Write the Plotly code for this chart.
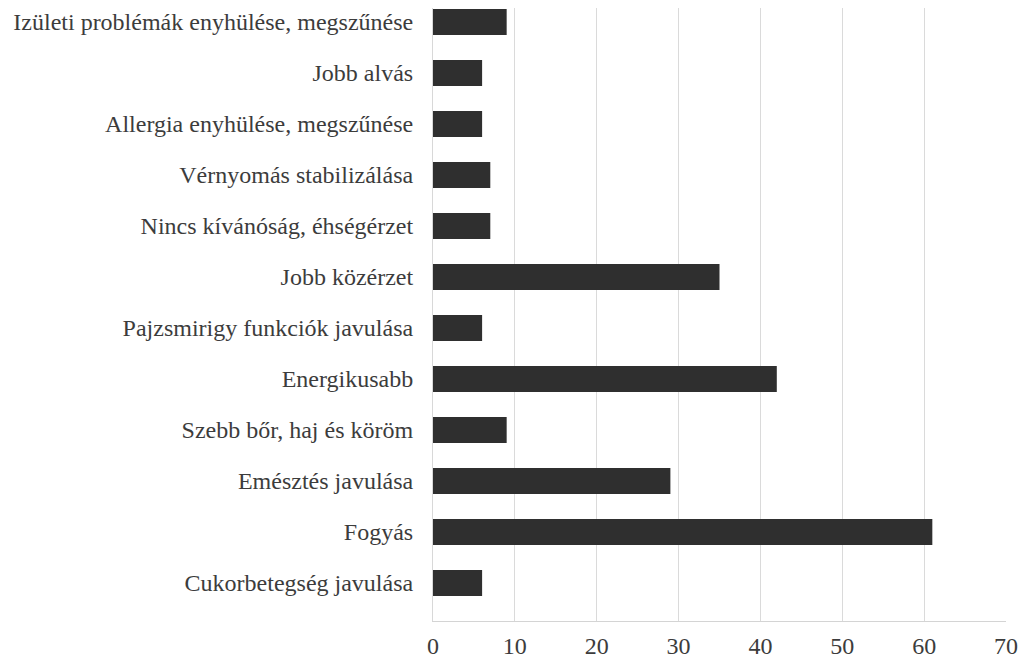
import plotly.graph_objects as go

categories = [
    "Cukorbetegség javulása",
    "Fogyás",
    "Emésztés javulása",
    "Szebb bőr, haj és köröm",
    "Energikusabb",
    "Pajzsmirigy funkciók javulása",
    "Jobb közérzet",
    "Nincs kívánóság, éhségérzet",
    "Vérnyomás stabilizálása",
    "Allergia enyhülése, megszűnése",
    "Jobb alvás",
    "Izületi problémák enyhülése, megszűnése",
]
values = [6, 61, 29, 9, 42, 6, 35, 7, 7, 6, 6, 9]
x_ticks = [0, 10, 20, 30, 40, 50, 60, 70]

fig = go.Figure(
    go.Bar(
        x=values,
        y=categories,
        orientation="h",
        width=0.51,
        marker=dict(color="#2f2f2f", line=dict(width=0)),
    )
)

font = dict(family="Liberation Serif", size=24, color="#3c3c3c")

# page has an 8px body margin, so the figure is sized to fill the window
fig.update_layout(
    width=1019,
    height=652,
    margin=dict(l=425, r=21, t=0, b=39, autoexpand=False),
    paper_bgcolor="white",
    plot_bgcolor="white",
    showlegend=False,
    font=font,
    xaxis=dict(
        range=[0, 70],
        tickvals=x_ticks,
        ticktext=[str(v) for v in x_ticks],
        showgrid=True,
        gridcolor="#dadada",
        gridwidth=1,
        zeroline=False,
        showline=True,
        linecolor="#d4d4d4",
        ticks="outside",
        ticklen=3,
        tickcolor="rgba(0,0,0,0)",
        tickfont=font,
        fixedrange=True,
        automargin=False,
    ),
    yaxis=dict(
        type="category",
        categoryorder="array",
        categoryarray=categories,
        range=[-0.745, 11.275],
        showgrid=False,
        zeroline=False,
        showline=True,
        linecolor="#d8d8d8",
        ticks="outside",
        ticklen=14,
        tickcolor="rgba(0,0,0,0)",
        tickfont=font,
        fixedrange=True,
        automargin=False,
    ),
)

fig.write_html("out.html")
